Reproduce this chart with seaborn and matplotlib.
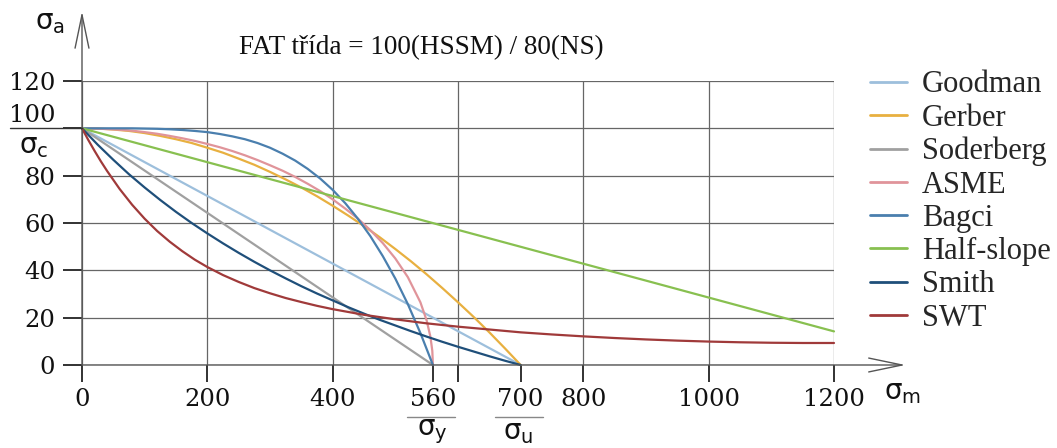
import matplotlib
matplotlib.use("Agg")
import matplotlib.pyplot as plt
import seaborn as sns
import pandas as pd
from matplotlib.lines import Line2D

sns.set_theme(style="white")
plt.rcParams['mathtext.fontset'] = 'dejavusans'

# ---- data ----
goodman_x = [0, 700]
goodman_y = [100, 0]
gerber_x = [0, 25, 50, 75, 100, 125, 150, 175, 200, 225, 250, 275, 300, 325, 350,
            375, 400, 425, 450, 475, 500, 525, 550, 575, 600, 625, 650, 675, 700]
gerber_y = [100, 99.9, 99.5, 98.9, 98.0, 96.8, 95.4, 93.8, 91.8, 89.7, 87.2, 84.6, 81.6, 78.4, 75.0,
            71.3, 67.3, 63.1, 58.7, 54.0, 49.0, 43.8, 38.3, 32.5, 26.5, 20.3, 13.8, 7.0, 0]
soderberg_x = [0, 560]
soderberg_y = [100, 0]
asme_x = [0, 20, 40, 60, 80, 100, 120, 140, 160, 180, 200, 220, 240, 260, 280, 300, 320,
          340, 360, 380, 400, 420, 440, 460, 480, 500, 520, 540, 550, 556, 559, 560]
asme_y = [100, 99.9, 99.7, 99.4, 99.0, 98.4, 97.7, 96.8, 95.8, 94.7, 93.4, 92.0, 90.4, 88.6, 86.6,
          84.4, 82.1, 79.5, 76.6, 73.5, 70.0, 66.1, 61.9, 57.0, 51.5, 45.0, 37.1, 26.5, 18.8, 11.9, 6.0, 0]
bagci_x = [0, 20, 40, 60, 80, 100, 120, 140, 160, 180, 200, 220, 240, 260, 280, 300, 320,
           340, 360, 380, 400, 420, 440, 460, 480, 500, 520, 540, 560]
bagci_y = [100, 100, 100, 100, 100, 99.9, 99.8, 99.6, 99.3, 98.9, 98.4, 97.6, 96.6, 95.4, 93.8,
           91.8, 89.3, 86.4, 82.9, 78.8, 74.0, 68.4, 61.9, 54.5, 46.0, 36.5, 25.7, 13.5, 0]
halfslope_x = [0, 1200]
halfslope_y = [100, 14.2]
smith_x = [0, 25, 50, 75, 100, 125, 150, 175, 200, 225, 250, 275, 300, 325, 350,
           375, 400, 425, 450, 475, 500, 525, 550, 575, 600, 625, 650, 675, 700]
smith_y = [100, 93.1, 86.7, 80.6, 75.0, 69.7, 64.7, 60.0, 55.6, 51.4, 47.4, 43.6, 40.0, 36.6, 33.3,
           30.2, 27.3, 24.4, 21.7, 19.1, 16.7, 14.3, 12.0, 9.8, 7.7, 5.7, 3.7, 1.8, 0]
swt_x = [0, 10, 20, 30, 40, 60, 80, 100, 120, 140, 160, 180, 200, 225, 250, 275, 300, 325, 350,
         375, 400, 450, 500, 550, 600, 650, 700, 750, 800, 850, 900, 950, 1000, 1050, 1100, 1150, 1200]
swt_y = [100, 95.1, 90.5, 86.1, 82.0, 74.4, 67.7, 61.8, 56.6, 52.1, 48.1, 44.5, 41.4, 38.0, 35.1,
         32.5, 30.3, 28.3, 26.6, 25.0, 23.6, 21.2, 19.3, 17.6, 16.2, 15.0, 13.8, 12.9, 12.1, 11.4,
         10.8, 10.3, 9.9, 9.6, 9.4, 9.3, 9.3]

names = ["Goodman", "Gerber", "Soderberg", "ASME", "Bagci", "Half-slope", "Smith", "SWT"]
series = [(goodman_x, goodman_y), (gerber_x, gerber_y), (soderberg_x, soderberg_y),
          (asme_x, asme_y), (bagci_x, bagci_y), (halfslope_x, halfslope_y),
          (smith_x, smith_y), (swt_x, swt_y)]
colors = ["#9dbfdc", "#e8b040", "#a0a0a0", "#e0949a", "#4a7fae", "#88c050", "#1f4f7a", "#a03a3a"]

x_major = [0, 200, 400, 600, 800, 1000, 1200]
x_major_labels = ["0", "200", "400", "", "800", "1000", "1200"]
x_minor = [560, 700]
x_minor_labels = ["560", "700"]
y_ticks = [0, 20, 40, 60, 80, 100, 120]
y_labels = ["0", "20", "40", "60", "80", "", "120"]
title = "FAT třída = 100(HSSM) / 80(NS)"

rows = []
for n, (xs, ys) in zip(names, series):
    for i, (a, b) in enumerate(zip(xs, ys)):
        rows.append({"model": n, "sm": a, "sa": b, "order": i})
df = pd.DataFrame(rows)

W, H = 1057, 448
fig = plt.figure(figsize=(W / 100, H / 100), dpi=100)
ax = fig.add_axes([82 / W, 1 - 365 / H, (834 - 82) / W, (365 - 81) / H])

sns.lineplot(data=df, x="sm", y="sa", hue="model", hue_order=names, palette=colors,
             sort=False, units="model", estimator=None, linewidth=1.6, ax=ax, legend=False)
for ln in ax.lines:
    ln.set_clip_on(False)
    ln.set_solid_joinstyle("round")

ax.set_xlim(0, 1200)
ax.set_ylim(0, 120)
for s in ax.spines.values():
    s.set_visible(False)

ax.set_xticks(x_major)
ax.set_xticklabels(x_major_labels)
ax.set_xticks(x_minor, minor=True)
ax.set_xticklabels(x_minor_labels, minor=True)
ax.set_yticks(y_ticks)
ax.set_yticklabels(y_labels)
for lab in ax.get_xticklabels(which="both") + ax.get_yticklabels():
    lab.set_fontfamily("DejaVu Serif")
    lab.set_fontsize(17.5)
    lab.set_color("#111111")
ax.tick_params(axis="x", which="both", direction="out", length=12, width=1.3, color="#222222",
               bottom=True, pad=4.5)
ax.tick_params(axis="y", which="both", direction="out", length=13.5, width=1.3, color="#222222",
               left=True, pad=6)
ax.grid(True, which="major", color="#666666", linewidth=0.9)
ax.set_xlabel("")
ax.set_ylabel("")
ax.set_axisbelow(True)

# axis arrows
arrow_kw = dict(arrowstyle="->,head_length=24,head_width=5", color="#555555", lw=1.0,
                mutation_scale=1, shrinkA=0, shrinkB=0)
ax.annotate("", xy=(0, 1.245), xytext=(0, 0), xycoords="axes fraction",
            textcoords="axes fraction", arrowprops=arrow_kw, annotation_clip=False)
ax.annotate("", xy=(1.095, 0), xytext=(0, 0), xycoords="axes fraction",
            textcoords="axes fraction", arrowprops=arrow_kw, annotation_clip=False)

def fx(px):
    return px / W

def fy(py):
    return 1 - py / H

# title
fig.text(fx(421), fy(48), title, ha="center", va="center",
         family="Liberation Serif", fontsize=19.5, color="#111111")

sig = r"$\mathrm{\sigma}_{\mathrm{%s}}$"
# axis symbols
fig.text(fx(50), fy(22), sig % "a", ha="center", va="center", fontsize=20, color="#111111")
fig.text(fx(903), fy(392), sig % "m", ha="center", va="center", fontsize=20, color="#111111")

# 100 / sigma_c
fig.text(fx(32), fy(116), "100", ha="center", va="center", family="DejaVu Serif",
         fontsize=17.5, color="#111111")
fig.add_artist(Line2D([fx(10), fx(82)], [fy(128), fy(128)], color="#333333", lw=1.0))
fig.text(fx(34), fy(146), sig % "c", ha="center", va="center", fontsize=20, color="#111111")

# 560 / sigma_y and 700 / sigma_u
fig.add_artist(Line2D([fx(407), fx(455)], [fy(417), fy(417)], color="#888888", lw=1.0))
fig.text(fx(432), fy(432), sig % "y", ha="center", va="center", fontsize=20, color="#111111")
fig.add_artist(Line2D([fx(495), fx(543)], [fy(417), fy(417)], color="#888888", lw=1.0))
fig.text(fx(518), fy(432), sig % "u", ha="center", va="center", fontsize=20, color="#111111")

# legend
handles = [Line2D([0], [0], color=c, lw=2.0) for c in colors]
fig.legend(handles, names, loc="upper left", bbox_to_anchor=(fx(858), fy(58)),
           frameon=False, prop={"family": "Liberation Serif", "size": 22},
           handlelength=1.2, handletextpad=0.5, labelspacing=0.14, borderaxespad=0)

fig.savefig("out.png", dpi=100)
